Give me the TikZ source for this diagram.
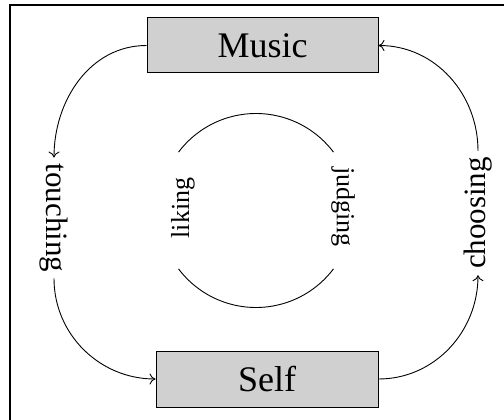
\documentclass[tikz,border=0pt]{standalone}
\usepackage{fontspec}
\setmainfont{Liberation Serif}
\usepackage{tikz}
\definecolor{boxcolor}{RGB}{208, 208, 208}
\usetikzlibrary{arrows.meta, positioning, calc}

\begin{document}
\begin{tikzpicture}[
    x=1pt, y=-1pt,
    thing/.style={rectangle, draw, line width=1pt, fill=boxcolor, align=center, font=\fontsize{36}{40}\selectfont},
    verb/.style={inner sep=6pt, font=\fontsize{31}{34}\selectfont},
    inner verb/.style={inner sep=4pt, font=\fontsize{26}{30}\selectfont},
    flow/.style={-{To[length=6pt, width=11pt]}, line width=0.9pt}
]
    \useasboundingbox (0,0) rectangle (504,420);
    % Frame
    \draw[line width=1.4pt] (10,420) -- (10,5) -- (504,5);

    % Things
    \node[thing, minimum width=231pt, minimum height=55pt] (music) at (262.5, 45.5) {Music};
    \node[thing, minimum width=222pt, minimum height=56pt] (self) at (267, 379) {Self};

    % Outer verbs
    \node[verb, rotate=-90] (touching) at (54, 218) {touching};
    \node[verb, rotate=90] (choosing) at (478, 213) {choosing};

    \draw[flow] (music.west) to[out=180, in=90] (touching.west);
    \draw[flow] (touching.east) to[out=-90, in=180] (self.west);
    \draw[flow] (self.east) to[out=0, in=-90] (choosing.west);
    \draw[flow] (choosing.east) to[out=90, in=0] (music.east);

    % Inner circle
    \coordinate (ring) at (256, 210.5);
    \draw[line width=0.9pt] ($(ring)+(143:97)$) arc[start angle=143, end angle=37, radius=97];
    \draw[line width=0.9pt] ($(ring)+(217:97)$) arc[start angle=217, end angle=323, radius=97];
    \node[inner verb, rotate=90] (liking) at (183, 208) {liking};
    \node[inner verb, rotate=-90] (judging) at (343, 207) {judging};
\end{tikzpicture}
\end{document}
